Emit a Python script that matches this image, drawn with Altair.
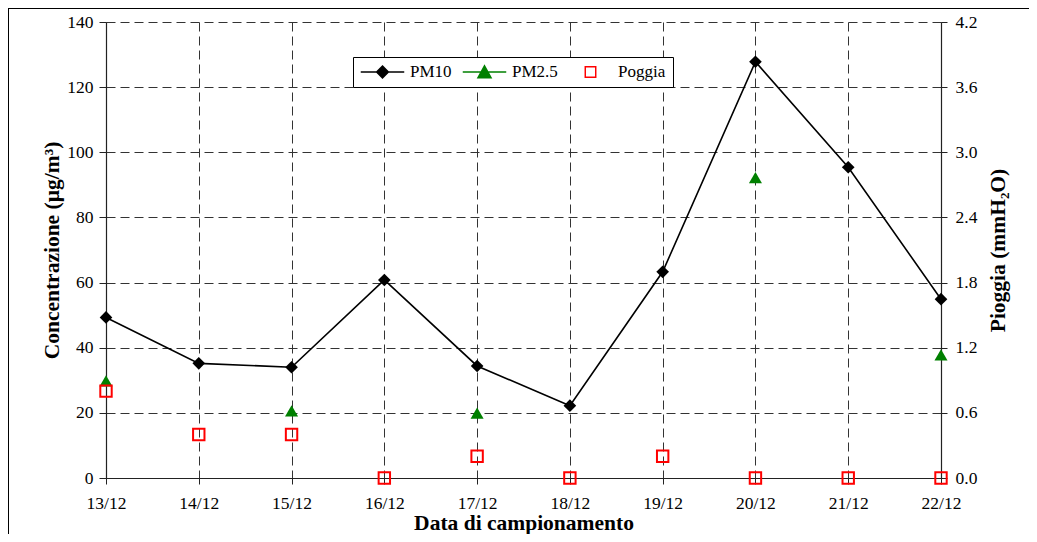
import altair as alt
import pandas as pd

dates = ["13/12", "14/12", "15/12", "16/12", "17/12", "18/12", "19/12", "20/12", "21/12", "22/12"]
pm10 = [49.3, 35.2, 34.0, 60.8, 34.4, 22.2, 63.3, 127.8, 95.4, 54.9]
pm25 = [29.8, None, 20.6, None, 19.9, None, None, 92.2, None, 37.8]
pioggia = [0.8, 0.4, 0.4, 0.0, 0.2, 0.0, 0.2, 0.0, 0.0, 0.0]
series = ["PM10", "PM2.5", "Poggia"]
left_ticks = [0, 20, 40, 60, 80, 100, 120, 140]
right_ticks = [0.0, 0.6, 1.2, 1.8, 2.4, 3.0, 3.6, 4.2]

df_pm10 = pd.DataFrame({"date": dates, "value": pm10, "series": "PM10"})
df_pm25 = pd.DataFrame({"date": dates, "value": pm25, "series": "PM2.5"}).dropna()
df_pio = pd.DataFrame({"date": dates, "value": pioggia, "series": "Poggia"})

FONT = "Liberation Serif"
GRID_DASH = [9, 5]
GRID_COLOR = "#333333"

x_enc = alt.X(
    "date:O",
    sort=dates,
    scale=alt.Scale(type="point", padding=0),
    axis=alt.Axis(
        title="Data di campionamento",
        labelAngle=0,
        grid=True,
        gridDash=GRID_DASH,
        gridColor=GRID_COLOR,
        gridOpacity=1,
        tickSize=6,
        labelPadding=10,
        titlePadding=1,
    ),
)

y_left = alt.Y(
    "value:Q",
    scale=alt.Scale(domain=[0, 140], nice=False),
    axis=alt.Axis(
        title="Concentrazione (µg/m³)",
        values=left_ticks,
        grid=True,
        gridDash=GRID_DASH,
        gridColor=GRID_COLOR,
        gridOpacity=1,
        tickSize=7,
        labelPadding=6,
        titlePadding=3,
    ),
)

y_right = alt.Y(
    "value:Q",
    scale=alt.Scale(domain=[0, 4.2], nice=False),
    axis=alt.Axis(
        title="Pioggia (mmH₂O)",
        orient="right",
        values=right_ticks,
        format=".1f",
        grid=False,
        tickSize=6,
        labelPadding=8,
        titlePadding=33,
        titleAngle=270,
    ),
)

# legend symbols: line + marker paths (unit coordinates)
legend_paths = [
    "M-1,0L1,0M0,-0.27L0.27,0L0,0.27L-0.27,0Z",
    "M-1,0L1,0M0,-0.28L0.3,0.26L-0.3,0.26Z",
    "M-0.24,-0.24L0.24,-0.24L0.24,0.24L-0.24,0.24Z",
]
fill_sig = "datum.value === 'PM10' ? 'black' : datum.value === 'PM2.5' ? '#008000' : 'transparent'"
stroke_sig = "datum.value === 'PM10' ? 'black' : datum.value === 'PM2.5' ? '#008000' : '#ff0000'"
sw_sig = "datum.value === 'Poggia' ? 2 : 1.5"

line = alt.Chart(df_pm10).mark_line(color="black", strokeWidth=1.6).encode(x=x_enc, y=y_left)
p10 = alt.Chart(df_pm10).mark_point(
    shape="diamond", filled=True, size=160, opacity=1, color="black"
).encode(x=x_enc, y=y_left)
p25 = alt.Chart(df_pm25).mark_point(
    shape="triangle-up", filled=True, size=170, opacity=1, color="#008000"
).encode(x=x_enc, y=y_left)

legend_df = pd.DataFrame({"date": dates[:3], "value": [0, 0, 0], "series": series})
legend_layer = (
    alt.Chart(legend_df)
    .transform_filter("false")
    .mark_point(
        fill=alt.ExprRef(fill_sig),
        stroke=alt.ExprRef(stroke_sig),
        strokeWidth=alt.ExprRef(sw_sig),
    )
    .encode(
        x=x_enc,
        y=y_left,
        shape=alt.Shape(
            "series:N",
            scale=alt.Scale(domain=series, range=legend_paths),
            legend=alt.Legend(
                title=None,
                orient="none",
                legendX=247,
                legendY=35,
                direction="horizontal",
                fillColor="white",
                strokeColor="black",
                padding=7,
                symbolSize=1892,
                clipHeight=16,
                labelOffset=5,
                columnPadding=10,
                labelFont=FONT,
                labelFontSize=17,
                labelColor="black",
                symbolOpacity=1,
            ),
        ),
    )
)

left = alt.layer(line, p10, p25, legend_layer)

right = alt.Chart(df_pio).mark_point(
    shape="square", filled=False, size=130, strokeWidth=2, opacity=1, color="#ff0000"
).encode(x=x_enc, y=y_right)

frame_df = pd.DataFrame({"k": [0]})
frame_top = alt.Chart(frame_df).mark_rule(color="black", strokeWidth=1).encode(
    x=alt.value(-98), x2=alt.value(930), y=alt.value(-13.5)
)
frame_left = alt.Chart(frame_df).mark_rule(color="black", strokeWidth=1).encode(
    x=alt.value(-97.5), y=alt.value(-14), y2=alt.value(520)
)

chart = (
    alt.layer(left, right, frame_top, frame_left)
    .resolve_scale(y="independent")
    .properties(
        width=835,
        height=456,
        background="white",
        autosize=alt.AutoSizeParams(type="none"),
        padding={"left": 98, "top": 14, "right": 88, "bottom": 56},
    )
    .configure_view(stroke=None)
    .configure_axis(
        labelFont=FONT,
        labelFontSize=17.5,
        labelColor="black",
        titleFont=FONT,
        titleFontSize=21.5,
        titleFontWeight="bold",
        titleColor="black",
        domainColor="#222222",
        domainWidth=1.2,
        tickColor="#222222",
    )
)

chart.save("out.html", embed_options={"renderer": "svg", "actions": False})
